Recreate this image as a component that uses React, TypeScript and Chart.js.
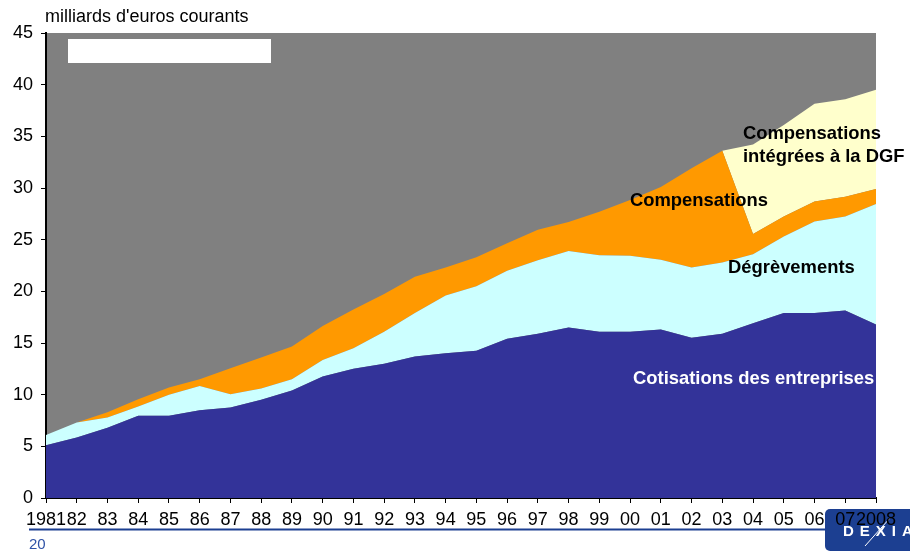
import React, { useEffect, useRef } from "react";
import { Chart, registerables } from "chart.js";

Chart.register(...registerables);

const FONT = "'Liberation Sans', Arial, sans-serif";

const years = [
  "1981", "82", "83", "84", "85", "86", "87", "88", "89", "90",
  "91", "92", "93", "94", "95", "96", "97", "98", "99", "00",
  "01", "02", "03", "04", "05", "06", "07", "2008",
];

// milliards d'euros courants (stacked components)
const cotisations = [
  5.1, 5.85, 6.8, 7.95, 7.95, 8.5, 8.75, 9.5, 10.4, 11.75,
  12.5, 13.0, 13.7, 14.0, 14.25, 15.4, 15.9, 16.5, 16.1, 16.1,
  16.3, 15.5, 15.9, 16.9, 17.9, 17.9, 18.15, 16.8,
];
const degrevements = [
  1.0, 1.45, 1.0, 0.9, 2.05, 2.35, 1.3, 1.1, 1.1, 1.6,
  2.0, 3.1, 4.2, 5.6, 6.25, 6.6, 7.1, 7.4, 7.4, 7.35,
  6.75, 6.8, 6.9, 6.7, 7.4, 8.85, 9.1, 11.65,
];
const compensations = [
  0, 0, 0.5, 0.7, 0.7, 0.65, 2.5, 3.0, 3.15, 3.3,
  3.75, 3.65, 3.5, 2.7, 2.8, 2.65, 2.95, 2.8, 4.2, 5.4,
  7.05, 9.6, 10.8, 1.95, 1.95, 1.95, 1.9, 1.45,
];
const compensationsDGF = [
  0, 0, 0, 0, 0, 0, 0, 0, 0, 0,
  0, 0, 0, 0, 0, 0, 0, 0, 0, 0,
  0, 0, 0, 8.65, 8.85, 9.45, 9.45, 9.6,
];

const yTicks = [0, 5, 10, 15, 20, 25, 30, 35, 40, 45];

const seriesNames = [
  "Cotisations des entreprises",
  "Dégrèvements",
  "Compensations",
  "Compensations intégrées à la DGF",
];
const seriesColors = ["#333399", "#CCFFFF", "#FF9900", "#FFFFCC"];

const decorPlugin = {
  id: "decor",
  beforeDraw(chart: any) {
    const { ctx, chartArea } = chart;
    ctx.save();
    // logo box
    ctx.fillStyle = "#1C3F91";
    ctx.beginPath();
    (ctx as any).roundRect(825, 509, 95, 42, 5);
    ctx.fill();
    ctx.fillStyle = "#FFFFFF";
    ctx.font = `bold 15px ${FONT}`;
    (ctx as any).letterSpacing = "6px";
    ctx.textBaseline = "alphabetic";
    ctx.textAlign = "left";
    ctx.fillText("DEXIA", 843, 535.5);
    (ctx as any).letterSpacing = "0px";
    ctx.strokeStyle = "#FFFFFF";
    ctx.lineWidth = 1;
    ctx.beginPath();
    ctx.moveTo(865, 546);
    ctx.lineTo(890, 518);
    ctx.stroke();
    // blue rule and page number
    ctx.strokeStyle = "#1C3F91";
    ctx.lineWidth = 2;
    ctx.beginPath();
    ctx.moveTo(29, 529.5);
    ctx.lineTo(826, 529.5);
    ctx.stroke();
    ctx.fillStyle = "#2F52A6";
    ctx.font = `15px ${FONT}`;
    ctx.textBaseline = "middle";
    ctx.fillText("20", 29, 545);
    // title
    ctx.fillStyle = "#000000";
    ctx.font = `18px ${FONT}`;
    ctx.fillText("milliards d'euros courants", 45, 17);
    // plot background
    ctx.fillStyle = "#808080";
    ctx.fillRect(
      chartArea.left,
      chartArea.top,
      chartArea.right - chartArea.left,
      chartArea.bottom - chartArea.top
    );
    ctx.fillStyle = "#FFFFFF";
    ctx.fillRect(68, 39, 203, 24);
    ctx.restore();
  },
  afterDraw(chart: any) {
    const { ctx } = chart;
    ctx.save();
    ctx.font = `bold 18.4px ${FONT}`;
    ctx.textBaseline = "middle";
    ctx.textAlign = "left";
    ctx.fillStyle = "#000000";
    ctx.fillText("Compensations", 743, 134);
    ctx.fillText("intégrées à la DGF", 743, 157);
    ctx.fillText(seriesNames[2], 630, 201);
    ctx.fillText(seriesNames[1], 728, 268);
    ctx.fillStyle = "#FFFFFF";
    ctx.fillText(seriesNames[0], 633, 379);
    ctx.restore();
  },
};

export default function App() {
  const ref = useRef<HTMLCanvasElement | null>(null);
  useEffect(() => {
    if (!ref.current) return;
    const values = [cotisations, degrevements, compensations, compensationsDGF];
    const chart = new Chart(ref.current, {
      type: "line",
      data: {
        labels: years,
        datasets: values.map((v, i) => ({
          label: seriesNames[i],
          data: v,
          backgroundColor: seriesColors[i],
          borderColor: seriesColors[i],
          borderWidth: 0,
          pointRadius: 0,
          tension: 0,
          fill: i === 0 ? "origin" : "-1",
        })),
      },
      options: {
        animation: false,
        responsive: true,
        maintainAspectRatio: false,
        layout: { padding: { top: 33, right: 34, left: 0, bottom: 0 } },
        plugins: {
          legend: { display: false },
          tooltip: { enabled: false },
        },
        scales: {
          x: {
            type: "category",
            offset: false,
            grid: {
              display: true,
              drawOnChartArea: false,
              drawTicks: true,
              tickLength: 5,
              color: "#000000",
              lineWidth: 1,
            },
            border: { display: true, color: "#000000", width: 2 },
            ticks: {
              color: "#000000",
              font: { family: FONT, size: 18 },
              autoSkip: false,
              maxRotation: 0,
              minRotation: 0,
              padding: 6,
            },
            afterFit(scale: any) {
              scale.height = 53;
            },
          },
          y: {
            stacked: true,
            min: 0,
            max: 45,
            afterBuildTicks(scale: any) {
              scale.ticks = yTicks.map((v) => ({ value: v }));
            },
            grid: {
              display: true,
              drawOnChartArea: false,
              drawTicks: true,
              tickLength: 5,
              color: "#000000",
              lineWidth: 1,
            },
            border: { display: true, color: "#000000", width: 2 },
            ticks: {
              color: "#000000",
              font: { family: FONT, size: 18 },
              padding: 8,
            },
            afterFit(scale: any) {
              scale.width = 46;
            },
          },
        },
      },
      plugins: [decorPlugin],
    });
    return () => chart.destroy();
  }, []);
  return (
    <div style={{ position: "absolute", left: 0, top: 0, width: 910, height: 551, background: "#FFFFFF" }}>
      <canvas ref={ref} />
    </div>
  );
}
